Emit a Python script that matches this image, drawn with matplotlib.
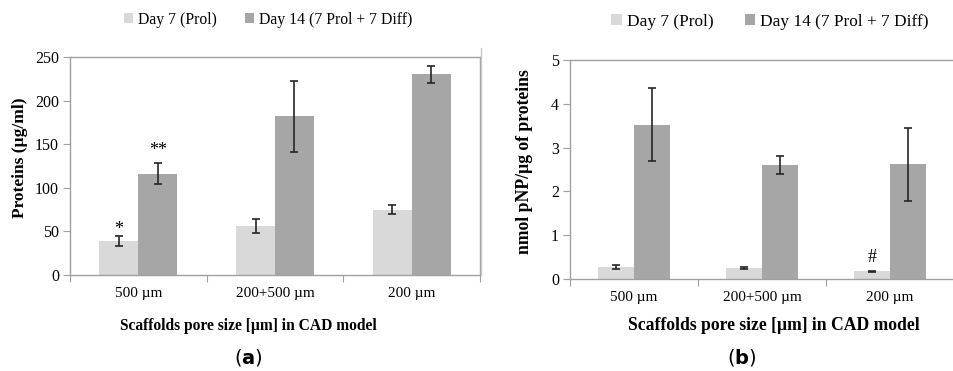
import numpy as np
import matplotlib
matplotlib.use("Agg")
import matplotlib.pyplot as plt

plt.rcParams['font.family'] = ['Liberation Serif', 'DejaVu Serif']

categories = ['500 µm', '200+500 µm', '200 µm']
series = ['Day 7 (Prol)', 'Day 14 (7 Prol + 7 Diff)']

# (a) proteins
prot_d7 = [39, 56, 75]
prot_d7_err = [6, 8, 5]
prot_d14 = [116, 182, 230]
prot_d14_err = [12, 41, 10]

# (b) ALP activity
alp_d7 = [0.28, 0.25, 0.18]
alp_d7_err = [0.05, 0.02, 0.01]
alp_d14 = [3.52, 2.60, 2.62]
alp_d14_err = [0.83, 0.20, 0.83]

c_light = '#d9d9d9'
c_dark = '#a6a6a6'
c_axis = '#a0a0a0'

W, H = 954, 371
fig = plt.figure(figsize=(W / 100, H / 100), dpi=100)


def px_axes(x0, y0, x1, y1):
    return fig.add_axes([x0 / W, 1 - y1 / H, (x1 - x0) / W, (y1 - y0) / H])


def draw_panel(ax, d7, d7e, d14, d14e, ymax, step, fs, xmax):
    x = np.arange(len(categories))
    w = 0.285
    ax.bar(x - w / 2, d7, w, color=c_light, label=series[0], zorder=2)
    ax.bar(x + w / 2, d14, w, color=c_dark, label=series[1], zorder=2)
    ax.errorbar(x - w / 2, d7, yerr=d7e, fmt='none', ecolor='#262626',
                elinewidth=1.2, capsize=3, capthick=1.2, zorder=3)
    ax.errorbar(x + w / 2, d14, yerr=d14e, fmt='none', ecolor='#262626',
                elinewidth=1.2, capsize=3, capthick=1.2, zorder=3)
    ax.set_xlim(-0.5, xmax)
    ax.set_ylim(0, ymax)
    ax.set_yticks(np.arange(0, ymax + step / 2, step))
    ax.set_xticks([-0.5, 0.5, 1.5, 2.5])
    ax.set_xticklabels([])
    ax.set_xticks(x, minor=True)
    ax.set_xticklabels(categories, minor=True, fontsize=fs)
    ax.tick_params(axis='x', which='minor', length=0, pad=9)
    ax.tick_params(axis='x', which='major', length=5, color=c_axis)
    ax.tick_params(axis='y', length=5, color=c_axis, labelsize=fs + 0.5, pad=3)
    for s in ax.spines.values():
        s.set_color(c_axis)
        s.set_linewidth(1.0)


ax1 = px_axes(70, 57, 480, 275)
draw_panel(ax1, prot_d7, prot_d7_err, prot_d14, prot_d14_err, 250, 50, 11, 2.5)
ax1.text(-0.142, 52, '*', ha='center', va='center', fontsize=13)
ax1.text(0.142, 143, '**', ha='center', va='center', fontsize=13)
fig.text(20 / W, 1 - 158 / H, 'Proteins (µg/ml)', rotation=90, ha='center',
         va='center', fontsize=12.5, fontweight='bold')
fig.text(248 / W, 1 - 326 / H, 'Scaffolds pore size [µm] in CAD model',
         ha='center', va='center', fontsize=11.2, fontweight='bold')
fig.legend(*ax1.get_legend_handles_labels(), loc='center',
           bbox_to_anchor=(268 / W, 1 - 20 / H), ncol=2, frameon=False,
           fontsize=11.3, handlelength=0.6, handleheight=0.6, handletextpad=0.3,
           columnspacing=1.8)

ax2 = px_axes(570, 60, 954, 279)
draw_panel(ax2, alp_d7, alp_d7_err, alp_d14, alp_d14_err, 5, 1, 11,
           2.5 - 12 / 132)
ax2.spines['right'].set_visible(False)
ax2.text(2 - 0.142, 0.5, '#', ha='center', va='center', fontsize=13)
fig.text(525 / W, 1 - 162 / H, 'nmol pNP/µg of proteins', rotation=90,
         ha='center', va='center', fontsize=12.7, fontweight='bold')
fig.text(774 / W, 1 - 326 / H, 'Scaffolds pore size [µm] in CAD model',
         ha='center', va='center', fontsize=12.7, fontweight='bold')
fig.legend(*ax2.get_legend_handles_labels(), loc='center',
           bbox_to_anchor=(770 / W, 1 - 22 / H), ncol=2, frameon=False,
           fontsize=12.4, handlelength=0.6, handleheight=0.6, handletextpad=0.3,
           columnspacing=1.8)

# separator line between panels
fig.add_artist(plt.Line2D([481 / W, 481 / W], [1 - 275 / H, 1 - 48 / H],
                          color='#c8c8c8', lw=1.0))

fig.text(248 / W, 1 - 357 / H, r'($\mathbf{a}$)', ha='center', va='center',
         fontsize=14, family='DejaVu Sans')
fig.text(742 / W, 1 - 357 / H, r'($\mathbf{b}$)', ha='center', va='center',
         fontsize=14, family='DejaVu Sans')

fig.savefig('out.png', dpi=100)
